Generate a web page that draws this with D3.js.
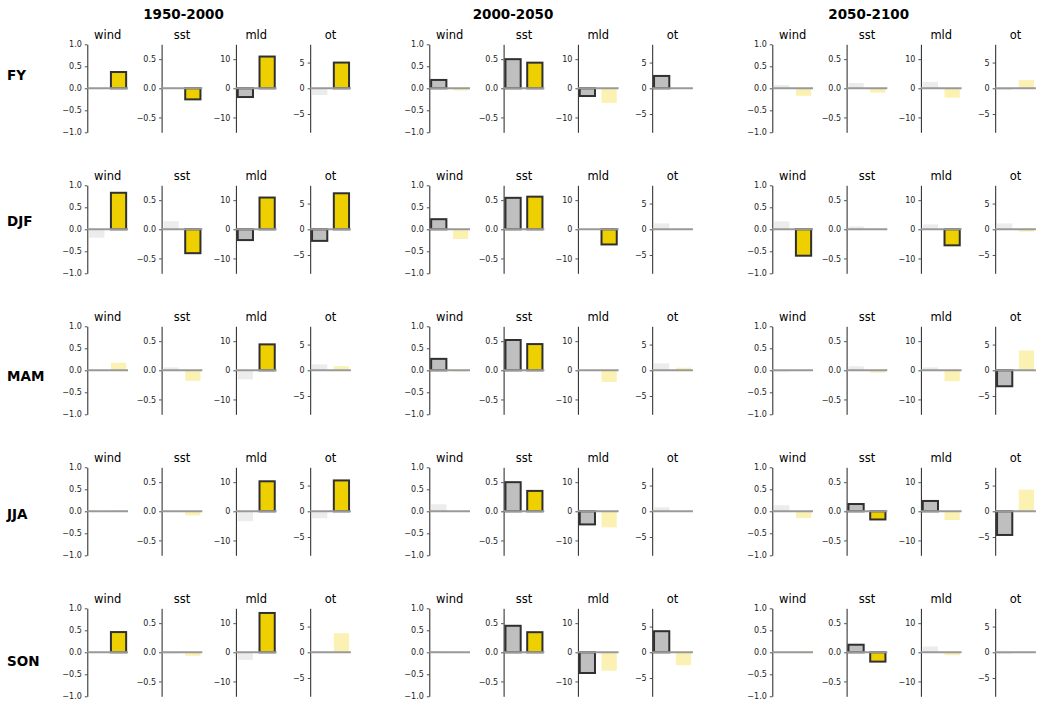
<!DOCTYPE html>
<html>
<head>
<meta charset="utf-8">
<script src="https://cdn.jsdelivr.net/npm/d3@7"></script>
<style>
  html, body { margin: 0; padding: 0; background: #fff; }
  svg { display: block; font-family: "DejaVu Sans", sans-serif; }
</style>
</head>
<body>
<svg id="chart" width="1042" height="709"></svg>
<script>
// ---------------- DATA ----------------
const periods = ["1950-2000", "2000-2050", "2050-2100"];
const seasons = ["FY", "DJF", "MAM", "JJA", "SON"];
const variables = ["wind", "sst", "mld", "ot"];

// tick values per variable
const windTicks = [-1, -0.5, 0, 0.5, 1];
const sstTicks = [-0.5, 0, 0.5];
const mldTicks = [-10, 0, 10];
const otTicks = [-5, 0, 5];

// values: rows = seasons (FY, DJF, MAM, JJA, SON), cols = wind, sst, mld, ot
const grey_1950_2000 = [
  [-0.02, 0.02, -3.0, -1.3],
  [-0.19, 0.14, -3.7, -2.25],
  [0.0, 0.05, -3.1, 1.15],
  [0.0, 0.0, -3.4, -1.35],
  [0.0, -0.02, -2.6, 0.0]
];
const yellow_1950_2000 = [
  [0.37, -0.19, 10.9, 5.0],
  [0.83, -0.41, 10.9, 7.0],
  [0.17, -0.18, 8.9, 0.8],
  [0.02, -0.07, 10.3, 6.0],
  [0.46, -0.06, 13.5, 3.7]
];
const sigGrey_1950_2000 = [
  [0, 0, 1, 0],
  [0, 0, 1, 1],
  [0, 0, 0, 0],
  [0, 0, 0, 0],
  [0, 0, 0, 0]
];
const sigYellow_1950_2000 = [
  [1, 1, 1, 1],
  [1, 1, 1, 1],
  [0, 0, 1, 0],
  [0, 0, 1, 1],
  [1, 0, 1, 0]
];

const grey_2000_2050 = [
  [0.19, 0.50, -2.65, 2.4],
  [0.23, 0.54, 0.0, 1.15],
  [0.26, 0.52, 0.0, 1.35],
  [0.16, 0.50, -4.5, 0.77],
  [0.03, 0.455, -7.1, 4.1]
];
const yellow_2000_2050 = [
  [-0.05, 0.44, -5.0, 0.0],
  [-0.22, 0.56, -5.2, 0.0],
  [-0.03, 0.45, -4.0, 0.5],
  [-0.01, 0.35, -5.5, 0.0],
  [0.0, 0.345, -6.3, -2.5]
];
const sigGrey_2000_2050 = [
  [1, 1, 1, 1],
  [1, 1, 0, 0],
  [1, 1, 0, 0],
  [0, 1, 1, 0],
  [0, 1, 1, 1]
];
const sigYellow_2000_2050 = [
  [0, 1, 0, 0],
  [0, 1, 1, 0],
  [0, 1, 0, 0],
  [0, 1, 0, 0],
  [0, 1, 0, 0]
];

const grey_2050_2100 = [
  [0.075, 0.09, 2.2, -0.35],
  [0.18, 0.05, 1.7, 1.15],
  [-0.03, 0.07, 1.0, -3.1],
  [0.14, 0.125, 3.55, -4.6],
  [0.0, 0.13, 2.0, -0.3]
];
const yellow_2050_2100 = [
  [-0.17, -0.075, -3.2, 1.6],
  [-0.6, 0.01, -5.5, -0.45],
  [-0.01, -0.04, -3.7, 3.85],
  [-0.15, -0.14, -3.0, 4.2],
  [0.03, -0.16, -1.0, 0.05]
];
const sigGrey_2050_2100 = [
  [0, 0, 0, 0],
  [0, 0, 0, 0],
  [0, 0, 0, 1],
  [0, 1, 1, 1],
  [0, 1, 0, 0]
];
const sigYellow_2050_2100 = [
  [0, 0, 0, 0],
  [1, 0, 1, 0],
  [0, 0, 0, 0],
  [0, 1, 0, 0],
  [0, 1, 0, 0]
];

const greyByPeriod = [grey_1950_2000, grey_2000_2050, grey_2050_2100];
const yellowByPeriod = [yellow_1950_2000, yellow_2000_2050, yellow_2050_2100];
const sigGreyByPeriod = [sigGrey_1950_2000, sigGrey_2000_2050, sigGrey_2050_2100];
const sigYellowByPeriod = [sigYellow_1950_2000, sigYellow_2000_2050, sigYellow_2050_2100];

// ---------------- LAYOUT ----------------
const periodX0 = [87.3, 429.3, 772.3];
const panelStep = 74.3;
const panelW = 40.7;
const rowTop0 = 44.3;
const rowStep = 141;
const panelH = 88;
const rowLabelY = [80, 226, 381, 519, 666];
const periodTitleX = [183.5, 513, 868.7];

const yLimits = { wind: 1.0, sst: 0.755, mld: 15.1, ot: 8.55 };
const ticksFor = { wind: windTicks, sst: sstTicks, mld: mldTicks, ot: otTicks };
const fmtFor = { wind: d3.format(".1f"), sst: d3.format(".1f"), mld: d3.format("d"), ot: d3.format("d") };

const GREY = "#bfbfbf", YELLOW = "#eed000", EDGE = "#303030", ZERO = "#999999";

const svg = d3.select("#chart");

// period titles
periods.forEach((p, i) => {
  svg.append("text")
    .attr("x", periodTitleX[i]).attr("y", 18.5)
    .attr("text-anchor", "middle")
    .attr("font-size", "13.5px").attr("font-weight", "bold")
    .attr("fill", "#000").text(p);
});

// row labels
seasons.forEach((s, r) => {
  svg.append("text")
    .attr("x", 7).attr("y", rowLabelY[r])
    .attr("font-size", "13.5px").attr("font-weight", "bold")
    .attr("fill", "#000").text(s);
});

const x = d3.scaleLinear().domain([-0.435, 1.435]).range([0, panelW]);
const barW = x(0.7) - x(0);

periods.forEach((p, pi) => {
  seasons.forEach((s, r) => {
    variables.forEach((v, vi) => {
      const gx = periodX0[pi] + vi * panelStep;
      const gy = rowTop0 + r * rowStep;
      const g = svg.append("g").attr("transform", `translate(${gx},${gy})`);
      const lim = yLimits[v];
      const y = d3.scaleLinear().domain([-lim, lim]).range([panelH, 0]);

      // title
      g.append("text")
        .attr("x", panelW / 2).attr("y", -5.5)
        .attr("text-anchor", "middle")
        .attr("font-size", "11.5px").attr("fill", "#000")
        .text(v);

      // axis
      const axis = d3.axisLeft(y).tickValues(ticksFor[v]).tickFormat(fmtFor[v])
        .tickSize(2.5).tickSizeOuter(0).tickPadding(3);
      const ag = g.append("g").call(axis);
      ag.select(".domain").attr("stroke", "#222").attr("stroke-width", 1);
      ag.selectAll(".tick line").attr("stroke", "#222").attr("stroke-width", 0.8);
      ag.selectAll(".tick text")
        .attr("font-size", "8px").attr("fill", "#222")
        .attr("font-family", "DejaVu Sans, sans-serif");

      const bars = [
        { i: 0, val: greyByPeriod[pi][r][vi], sig: sigGreyByPeriod[pi][r][vi], color: GREY },
        { i: 1, val: yellowByPeriod[pi][r][vi], sig: sigYellowByPeriod[pi][r][vi], color: YELLOW }
      ];

      g.selectAll("rect.bar").data(bars).enter().append("rect")
        .attr("class", "bar")
        .attr("x", d => x(d.i) - barW / 2)
        .attr("width", barW)
        .attr("y", d => Math.min(y(d.val), y(0)))
        .attr("height", d => Math.abs(y(d.val) - y(0)))
        .attr("fill", d => d.color)
        .attr("fill-opacity", d => d.sig ? 1 : 0.3)
        .attr("stroke", d => d.sig ? EDGE : "none")
        .attr("stroke-width", 2);

      // zero line
      g.append("line")
        .attr("x1", x(-0.435)).attr("x2", x(1.435))
        .attr("y1", y(0)).attr("y2", y(0))
        .attr("stroke", ZERO).attr("stroke-width", 2);
    });
  });
});
</script>
</body>
</html>
